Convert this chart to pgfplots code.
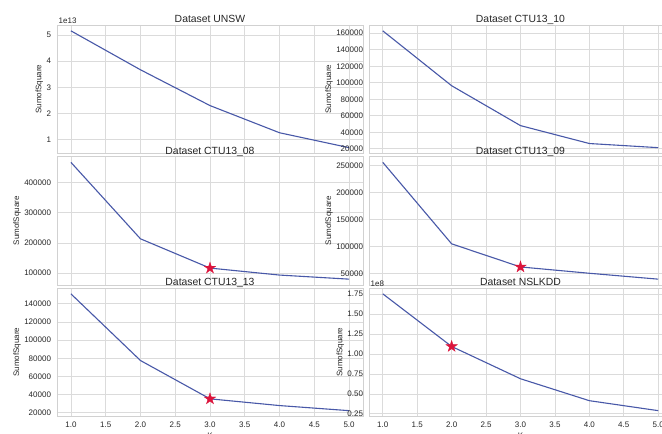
\documentclass[border=0pt]{standalone}
\usepackage{fontspec}
\setmainfont{Liberation Sans}
\usepackage{pgfplots}
\pgfplotsset{compat=1.18}
\definecolor{txt}{gray}{0.15}
\definecolor{spine}{gray}{0.82}
\definecolor{gridc}{gray}{0.86}
\definecolor{linec}{RGB}{72,88,168}
\definecolor{starc}{RGB}{220,20,60}
\pgfdeclareplotmark{fstar}{%
  \pgfpathmoveto{\pgfpointpolar{90}{\pgfplotmarksize}}%
  \pgfpathlineto{\pgfpointpolar{126}{0.382*\pgfplotmarksize}}%
  \pgfpathlineto{\pgfpointpolar{162}{\pgfplotmarksize}}%
  \pgfpathlineto{\pgfpointpolar{198}{0.382*\pgfplotmarksize}}%
  \pgfpathlineto{\pgfpointpolar{234}{\pgfplotmarksize}}%
  \pgfpathlineto{\pgfpointpolar{270}{0.382*\pgfplotmarksize}}%
  \pgfpathlineto{\pgfpointpolar{306}{\pgfplotmarksize}}%
  \pgfpathlineto{\pgfpointpolar{342}{0.382*\pgfplotmarksize}}%
  \pgfpathlineto{\pgfpointpolar{18}{\pgfplotmarksize}}%
  \pgfpathlineto{\pgfpointpolar{54}{0.382*\pgfplotmarksize}}%
  \pgfpathclose
  \pgfusepathqfillstroke
}
\pgfplotsset{
  base/.style={
    scale only axis, width=306pt, height=128.5pt, anchor=south west,
    axis background/.style={fill=white},
    axis line style={spine, line width=0.8pt},
    grid=major, major grid style={gridc, line width=0.8pt},
    major tick length=0pt,
    tick label style={font=\fontsize{8}{9.6}\selectfont, text=txt},
    yticklabel style={xshift=-2.5pt, /pgf/number format/fixed, /pgf/number format/precision=0, /pgf/number format/1000 sep={}},
    xticklabel style={yshift=-1.5pt, /pgf/number format/fixed, /pgf/number format/fixed zerofill, /pgf/number format/precision=1},
    label style={font=\fontsize{8}{9.6}\selectfont, text=txt},
    ylabel shift=-3.5pt,
    xlabel shift=-1.5pt,
    title style={font=\fontsize{10.4}{12}\selectfont, text=txt, at={(0.5,1)}, anchor=base, yshift=-3.6pt},
    xmin=0.8, xmax=5.2, xtick={1,1.5,2,2.5,3,3.5,4,4.5,5},
    enlarge y limits=0.05,
    scaled ticks=false,
    /pgf/number format/assume math mode=true,
    ylabel={SumofSquare},
  },
  rightcol/.style={width=303pt},
  noxl/.style={xticklabels={}},
  curve/.style={linec, line width=1.1pt, mark=none},
  starm/.style={only marks, mark=fstar, mark size=6pt, mark options={fill=starc, draw=starc, line width=0.3pt}},
}
\begin{document}
\begin{tikzpicture}[x=1pt,y=1pt]
\useasboundingbox (0,0) rectangle (662,434);
\clip (0,0) rectangle (662,434);
% UNSW
\begin{axis}[base, noxl, at={(57pt,280.5pt)}, title={Dataset UNSW}, ytick={1,2,3,4,5}]
\addplot[curve] coordinates {(1,5.16) (2,3.67) (3,2.30) (4,1.26) (5,0.69)};
\end{axis}
\node[anchor=south west, inner sep=0, font=\fontsize{8}{9.6}\selectfont, text=txt] at (58.5,410.5) {1e13};
% CTU13_10
\begin{axis}[base, rightcol, noxl, at={(369pt,280.5pt)}, title={Dataset CTU13\_10}, ytick={20000,40000,60000,80000,100000,120000,140000,160000}]
\addplot[curve] coordinates {(1,162900) (2,96400) (3,48100) (4,26400) (5,21400)};
\end{axis}
% CTU13_08
\begin{axis}[base, noxl, at={(57pt,149pt)}, title={Dataset CTU13\_08}, ytick={100000,200000,300000,400000}]
\addplot[curve] coordinates {(1,465800) (2,213600) (3,117000) (4,94000) (5,80500)};
\addplot[starm] coordinates {(3,117000)};
\end{axis}
% CTU13_09
\begin{axis}[base, rightcol, noxl, at={(369pt,149pt)}, title={Dataset CTU13\_09}, ytick={50000,100000,150000,200000,250000}]
\addplot[curve] coordinates {(1,255400) (2,104500) (3,61700) (4,50000) (5,39100)};
\addplot[starm] coordinates {(3,61700)};
\end{axis}
% CTU13_13
\begin{axis}[base, at={(57pt,17.5pt)}, title={Dataset CTU13\_13}, xlabel={K}, ytick={20000,40000,60000,80000,100000,120000,140000}]
\addplot[curve] coordinates {(1,151000) (2,77600) (3,35400) (4,28000) (5,22400)};
\addplot[starm] coordinates {(3,35400)};
\end{axis}
% NSLKDD
\begin{axis}[base, rightcol, at={(369pt,17.5pt)}, title={Dataset NSLKDD}, xlabel={K},
  ytick={0.25,0.5,0.75,1,1.25,1.5,1.75},
  yticklabel style={/pgf/number format/fixed zerofill, /pgf/number format/precision=2}]
\addplot[curve] coordinates {(1,1.755) (2,1.095) (3,0.69) (4,0.415) (5,0.29)};
\addplot[starm] coordinates {(2,1.095)};
\end{axis}
\node[anchor=south west, inner sep=0, font=\fontsize{8}{9.6}\selectfont, text=txt] at (370.5,147.5) {1e8};
\end{tikzpicture}
\end{document}
